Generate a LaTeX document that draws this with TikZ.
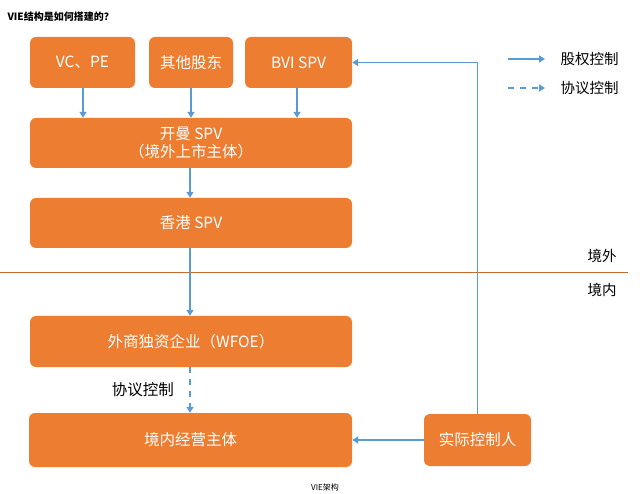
\documentclass[tikz,border=0pt]{standalone}
\usepackage{fontspec}
\setmainfont{Noto Sans CJK SC}
\usepackage{tikz}
\usetikzlibrary{arrows.meta,positioning}
\definecolor{boxorange}{HTML}{ED7D31}
\definecolor{arrowblue}{HTML}{5B9BD5}

\begin{document}
\begin{tikzpicture}[
    x=1pt, y=-1pt,
    >={Triangle[length=6pt,width=7pt]},
    every node/.style={font=\fontsize{15.5}{18}\selectfont},
    small/.style={font=\fontsize{14.5}{17}\selectfont},
    ent/.style={
        draw=none,
        fill=boxorange,
        rounded corners=6pt,
        text=white,
        align=center,
        inner sep=0pt
    },
    own/.style={->, arrowblue, line width=1.8pt},
    deal/.style={->, arrowblue, line width=1.8pt, dash pattern=on 6pt off 6pt}
]

\useasboundingbox (0,0) rectangle (640,494);

% title and caption
\node[anchor=west, font=\fontsize{10}{12}\selectfont\bfseries] (title) at (4,17) {VIE结构是如何搭建的？};
\node[font=\fontsize{8}{10}\selectfont] (caption) at (325,487) {VIE架构};

% shareholders
\node[ent, minimum width=105, minimum height=51] (VC)    at (82.5,62.5)  {VC、PE};
\node[ent, minimum width=84,  minimum height=51] (Other) at (191,62.5)   {其他股东};
\node[ent, minimum width=107, minimum height=51] (BVI)   at (298.5,62.5) {BVI SPV};

% offshore chain
\node[ent, minimum width=322, minimum height=50] (Cayman) at (191,143) {开曼 SPV\\（境外上市主体）};
\node[ent, minimum width=322, minimum height=50] (HK)     at (191,223) {香港 SPV};

% border line
\coordinate (borderL) at (0,272);
\coordinate (borderR) at (628,272);
\draw[boxorange!85!black, line width=0.8pt] (borderL) -- (borderR);
\node[small] (out) at (602,256) {境外};
\node[small] (in)  at (602,290) {境内};

% onshore chain
\node[ent, minimum width=322, minimum height=51] (WFOE) at (191,341.5) {外商独资企业（WFOE）};
\node[ent, minimum width=323, minimum height=54] (OpCo) at (190.5,440) {境内经营主体};
\node[ent, minimum width=107, minimum height=52] (Ctrl) at (477.5,440) {实际控制人};

% equity arrows
\draw[own] (VC.south -| 83,0)    -- (Cayman.north -| 83,0);
\draw[own] (Other.south)         -- (Cayman.north -| 191,0);
\draw[own] (BVI.south -| 297,0)  -- (Cayman.north -| 297,0);
\draw[own] (Cayman.south -| 190,0) -- (HK.north -| 190,0);
\draw[own] (HK.south -| 190,0)     -- (WFOE.north -| 190,0);
\draw[own] (Ctrl.west) -- (OpCo.east);
\draw[own] (Ctrl.north) -- (Ctrl.north |- BVI.east) -- (BVI.east);

% contract control
\draw[deal] (WFOE.south -| 190,0) -- node[left=12pt, text=black] {协议控制} (OpCo.north -| 190,0);

% legend
\coordinate (legA) at (508,59);
\coordinate (legB) at (545,59);
\coordinate (legC) at (508,88);
\coordinate (legD) at (545,88);
\draw[own]  (legA) -- (legB);
\draw[deal] (legC) -- (legD);
\node[small, anchor=west] (legOwn)  at (557,59) {股权控制};
\node[small, anchor=west] (legDeal) at (557,88) {协议控制};

\end{tikzpicture}
\end{document}
